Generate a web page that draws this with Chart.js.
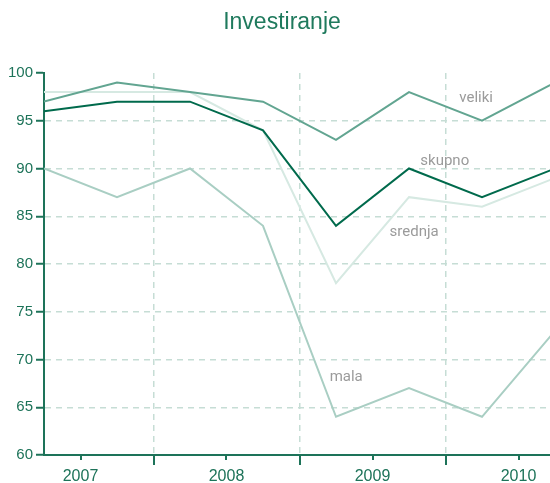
<!DOCTYPE html>
<html>
<head>
<meta charset="utf-8">
<script src="https://cdn.jsdelivr.net/npm/chart.js@4"></script>
<style>
  html, body { margin: 0; padding: 0; background: #fff; }
  #wrap { width: 550px; height: 483px; position: relative; }
</style>
</head>
<body>
<div id="wrap"><canvas id="chart"></canvas></div>
<script>
// half-year periods, 2007 H1 .. 2010 H2
const periods = ['2007/1', '2007/2', '2008/1', '2008/2', '2009/1', '2009/2', '2010/1', '2010/2'];
const years = ['2007', '2008', '2009', '2010'];

const veliki = [97, 99, 98, 97, 93, 98, 95, 99];
const skupno = [96, 97, 97, 94, 84, 90, 87, 90];
const srednja = [98, 98, 98, 94, 78, 87, 86, 89];
const mala = [90, 87, 90, 84, 64, 67, 64, 73];

const green = '#1d7359';
const gridColor = '#c6ddd5';

function toPoints(values) {
    return values.map((v, i) => ({ x: i, y: v }));
}

// label anchor for every series, in data units
const series = [
    { name: 'skupno', data: skupno, color: '#006a4c', label: { x: 5.49, y: 90.8 } },
    { name: 'veliki', data: veliki, color: '#62a591', label: { x: 5.92, y: 97.4 } },
    { name: 'mala', data: mala, color: '#a9cec3', label: { x: 4.14, y: 68.1 } },
    { name: 'srednja', data: srednja, color: '#d6e9e2', label: { x: 5.07, y: 83.3 } }
];

// year centres and year boundaries on the half-year axis
const yearTicks = years.map((y, i) => 0.5 + i * 2);
const boundaryTicks = [1.5, 3.5, 5.5];

const seriesLabels = {
    id: 'seriesLabels',
    afterDatasetsDraw(chart) {
        const { ctx, scales } = chart;
        ctx.save();
        ctx.font = '15px Roboto, sans-serif';
        ctx.fillStyle = '#9b9b9b';
        ctx.textAlign = 'center';
        ctx.textBaseline = 'middle';
        series.forEach(s => {
            ctx.fillText(s.name, scales.x.getPixelForValue(s.label.x), scales.y.getPixelForValue(s.label.y));
        });
        ctx.restore();
    }
};

const axisDecor = {
    id: 'axisDecor',
    afterDraw(chart) {
        const { ctx, scales, chartArea } = chart;
        ctx.save();
        ctx.strokeStyle = green;
        ctx.lineWidth = 2;
        yearTicks.forEach(v => {
            const px = Math.round(scales.x.getPixelForValue(v));
            ctx.beginPath();
            ctx.moveTo(px, chartArea.bottom);
            ctx.lineTo(px, chartArea.bottom + 5);
            ctx.stroke();
        });
        boundaryTicks.forEach(v => {
            const px = Math.round(scales.x.getPixelForValue(v));
            ctx.beginPath();
            ctx.moveTo(px, chartArea.bottom);
            ctx.lineTo(px, chartArea.bottom + 10);
            ctx.stroke();
        });
        // title
        ctx.font = '23px "Liberation Sans", sans-serif';
        ctx.fillStyle = '#1f7a5d';
        ctx.textAlign = 'center';
        ctx.textBaseline = 'alphabetic';
        ctx.fillText('Investiranje', 282, 29);
        ctx.restore();
    }
};

new Chart(document.getElementById('chart'), {
    type: 'line',
    data: {
        labels: periods,
        datasets: series.map(s => ({
            label: s.name,
            data: toPoints(s.data),
            borderColor: s.color,
            backgroundColor: s.color,
            borderWidth: 2,
            pointRadius: 0,
            tension: 0
        }))
    },
    options: {
        responsive: true,
        maintainAspectRatio: false,
        animation: false,
        layout: { padding: { top: 73, left: 0, right: 0, bottom: 0 } },
        plugins: {
            legend: { display: false },
            tooltip: { enabled: false },
            title: { display: false }
        },
        scales: {
            x: {
                type: 'linear',
                min: 0,
                max: 506 / 73,
                afterBuildTicks: scale => {
                    scale.ticks = yearTicks.concat(boundaryTicks).sort((a, b) => a - b).map(v => ({ value: v }));
                },
                afterFit: scale => { scale.height = 28; },
                grid: {
                    color: ctx => boundaryTicks.includes(ctx.tick && ctx.tick.value) ? gridColor : 'transparent',
                    lineWidth: 1.5,
                    tickLength: 10,
                    tickColor: 'transparent'
                },
                border: { display: true, color: green, width: 2, dash: [6, 5] },
                ticks: {
                    autoSkip: false,
                    maxRotation: 0,
                    padding: 2,
                    color: green,
                    font: { family: '"Liberation Sans", sans-serif', size: 16 },
                    callback: value => {
                        const i = yearTicks.indexOf(value);
                        return i >= 0 ? years[i] : '';
                    }
                }
            },
            y: {
                min: 60,
                max: 100,
                afterFit: scale => { scale.width = 44; },
                grid: {
                    color: ctx => (ctx.tick && (ctx.tick.value === 60 || ctx.tick.value === 100)) ? 'transparent' : gridColor,
                    lineWidth: 1.5,
                    tickLength: 8,
                    tickColor: green,
                    tickWidth: 2
                },
                border: { display: true, color: green, width: 2, dash: [6, 5] },
                ticks: {
                    stepSize: 5,
                    padding: 3,
                    color: green,
                    font: { family: '"Liberation Sans", sans-serif', size: 15 }
                }
            }
        }
    },
    plugins: [seriesLabels, axisDecor]
});
</script>
</body>
</html>
